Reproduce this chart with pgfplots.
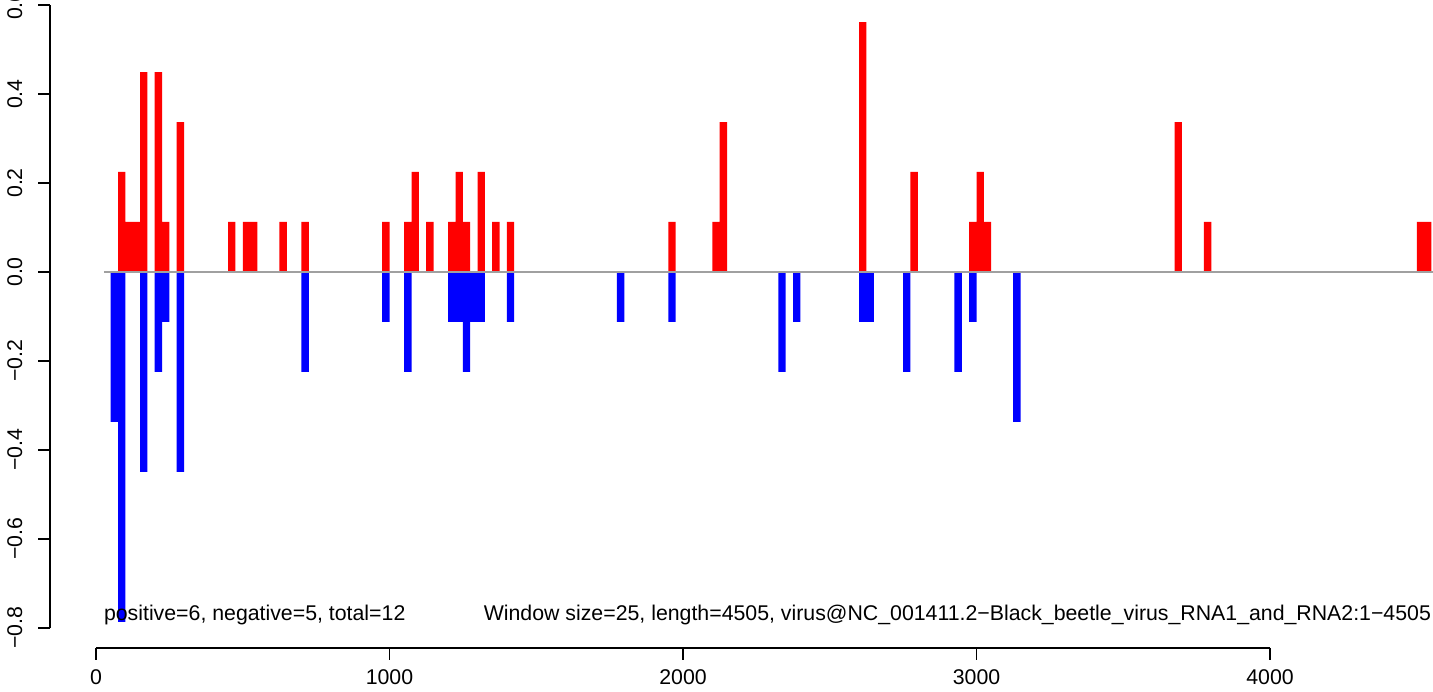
\documentclass[border=0pt]{standalone}
\usepackage{pgfplots}
\pgfplotsset{compat=1.18}
\usepackage{fontspec}
\setmainfont{Liberation Sans}
\definecolor{zl}{HTML}{A0A0A0}
\begin{document}
\begin{tikzpicture}[every node/.style={font=\fontsize{10.65bp}{12.8bp}\selectfont, inner sep=0pt, outer sep=0pt}]
\begin{axis}[scale only axis, width=716.5bp, height=346bp,
  xmin=-327.1, xmax=4555.4, ymin=-0.9442, ymax=0.6115,
  hide axis, clip=false]
\coordinate (ll) at (rel axis cs:0,0);
\coordinate (ur) at (rel axis cs:1,1);
% positive windows
\addplot[ybar, bar width=3.669bp, bar shift=0pt, fill=red, draw=none] coordinates {
(87.5,0.2248) (112.5,0.1124) (137.5,0.1124) (162.5,0.4495) (212.5,0.4495) (237.5,0.1124)
(287.5,0.3371) (462.5,0.1124) (512.5,0.1124) (537.5,0.1124) (637.5,0.1124) (712.5,0.1124)
(987.5,0.1124) (1062.5,0.1124) (1087.5,0.2248) (1137.5,0.1124) (1212.5,0.1124) (1237.5,0.2248)
(1262.5,0.1124) (1312.5,0.2248) (1362.5,0.1124) (1412.5,0.1124) (1962.5,0.1124) (2112.5,0.1124)
(2137.5,0.3371) (2612.5,0.5619) (2787.5,0.2248) (2987.5,0.1124) (3012.5,0.2248) (3037.5,0.1124)
(3687.5,0.3371) (3787.5,0.1124) (4512.5,0.1124) (4537.5,0.1124)
};
% negative windows
\addplot[ybar, bar width=3.669bp, bar shift=0pt, fill=blue, draw=none] coordinates {
(62.5,-0.3371) (87.5,-0.7867) (162.5,-0.4495) (212.5,-0.2248) (237.5,-0.1124) (287.5,-0.4495)
(712.5,-0.2248) (987.5,-0.1124) (1062.5,-0.2248) (1212.5,-0.1124) (1237.5,-0.1124) (1262.5,-0.2248)
(1287.5,-0.1124) (1312.5,-0.1124) (1412.5,-0.1124) (1787.5,-0.1124) (1962.5,-0.1124) (2337.5,-0.2248)
(2387.5,-0.1124) (2612.5,-0.1124) (2637.5,-0.1124) (2762.5,-0.2248) (2937.5,-0.2248) (2987.5,-0.1124)
(3137.5,-0.3371)
};
% zero line
\draw[zl, line width=1bp] (axis cs:27,0) -- (axis cs:4555.4,0);
% y axis (R style)
\draw[black, line width=0.8bp] (axis cs:-156.7,-0.8) -- (axis cs:-156.7,0.6);
\draw[black, line width=0.8bp]
  (axis cs:-156.7,-0.8) -- (axis cs:-197.6,-0.8)
  (axis cs:-156.7,-0.6) -- (axis cs:-197.6,-0.6)
  (axis cs:-156.7,-0.4) -- (axis cs:-197.6,-0.4)
  (axis cs:-156.7,-0.2) -- (axis cs:-197.6,-0.2)
  (axis cs:-156.7,0) -- (axis cs:-197.6,0)
  (axis cs:-156.7,0.2) -- (axis cs:-197.6,0.2)
  (axis cs:-156.7,0.4) -- (axis cs:-197.6,0.4)
  (axis cs:-156.7,0.6) -- (axis cs:-197.6,0.6);
\node[rotate=90, anchor=base] at (axis cs:-252.1,-0.8) {−0.8};
\node[rotate=90, anchor=base] at (axis cs:-252.1,-0.6) {−0.6};
\node[rotate=90, anchor=base] at (axis cs:-252.1,-0.4) {−0.4};
\node[rotate=90, anchor=base] at (axis cs:-252.1,-0.2) {−0.2};
\node[rotate=90, anchor=base] at (axis cs:-252.1,0) {0.0};
\node[rotate=90, anchor=base] at (axis cs:-252.1,0.2) {0.2};
\node[rotate=90, anchor=base] at (axis cs:-252.1,0.4) {0.4};
\node[rotate=90, anchor=base] at (axis cs:-252.1,0.6) {0.6};
% x axis (R style)
\draw[black, line width=0.8bp] (axis cs:0,-0.8453) -- (axis cs:4000,-0.8453);
\draw[black, line width=0.8bp]
  (axis cs:0,-0.8453) -- (axis cs:0,-0.8723)
  (axis cs:1000,-0.8453) -- (axis cs:1000,-0.8723)
  (axis cs:2000,-0.8453) -- (axis cs:2000,-0.8723)
  (axis cs:3000,-0.8453) -- (axis cs:3000,-0.8723)
  (axis cs:4000,-0.8453) -- (axis cs:4000,-0.8723);
\node[anchor=base] at (axis cs:0,-0.9263) {0};
\node[anchor=base] at (axis cs:1000,-0.9263) {1000};
\node[anchor=base] at (axis cs:2000,-0.9263) {2000};
\node[anchor=base] at (axis cs:3000,-0.9263) {3000};
\node[anchor=base] at (axis cs:4000,-0.9263) {4000};
% annotations
\node[anchor=base west] at (axis cs:27.3,-0.7846) {positive=6, negative=5, total=12};
\node[anchor=base east] at (axis cs:4548.6,-0.7846) {Window size=25, length=4505, virus@NC\_001411.2−Black\_beetle\_virus\_RNA1\_and\_RNA2:1−4505};
\end{axis}
\pgfresetboundingbox
\useasboundingbox (ll) rectangle (ur);
\end{tikzpicture}
\end{document}
